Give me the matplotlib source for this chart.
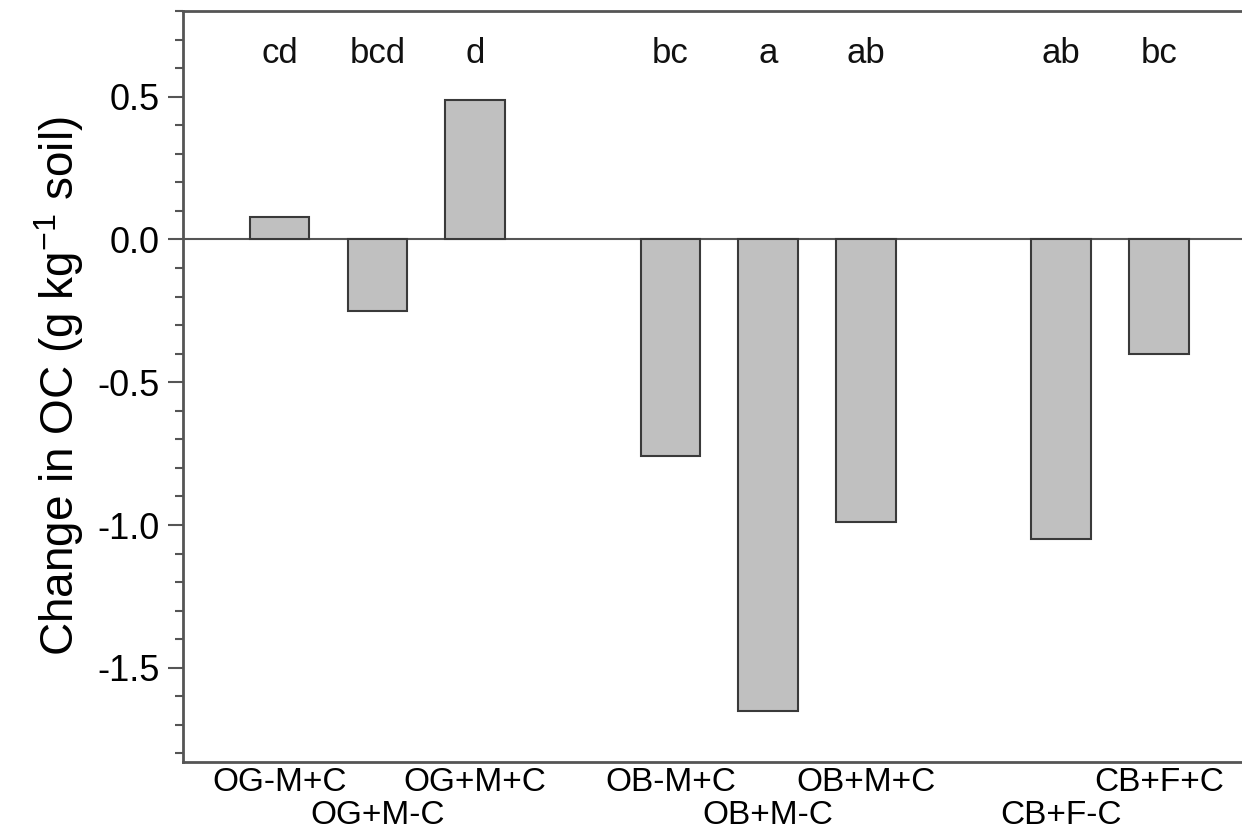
import numpy as np
import matplotlib.pyplot as plt
import matplotlib
from matplotlib.ticker import MultipleLocator

matplotlib.rcParams["font.family"] = ["Liberation Sans", "DejaVu Sans"]
matplotlib.rcParams["mathtext.fontset"] = "custom"
matplotlib.rcParams["mathtext.rm"] = "Liberation Sans"

# data
treatments = ["OG-M+C", "OG+M-C", "OG+M+C",
              "OB-M+C", "OB+M-C", "OB+M+C",
              "CB+F-C", "CB+F+C"]
positions = [1, 2, 3, 5, 6, 7, 9, 10]
change_oc = [0.08, -0.25, 0.49, -0.757, -1.65, -0.99, -1.05, -0.40]
letters = ["cd", "bcd", "d", "bc", "a", "ab", "ab", "bc"]
label_row = [0, 1, 0, 0, 1, 0, 1, 0]

fig = plt.figure(figsize=(12.42, 8.35), dpi=100)
ax = fig.add_axes([0.1473, 0.0874, 0.8527, 0.8994])

ax.bar(positions, change_oc, width=0.61, color="#c0c0c0",
       edgecolor="#3a3a3a", linewidth=1.5, zorder=3)
ax.axhline(0, color="#555555", linewidth=1.5, zorder=2)

for x, t in zip(positions, letters):
    ax.text(x, 0.65, t, ha="center", va="center", fontsize=25, color="#111111")

ax.set_xlim(0.01, 10.85)
ax.set_ylim(-1.83, 0.80)
ax.yaxis.set_major_locator(MultipleLocator(0.5))
ax.yaxis.set_minor_locator(MultipleLocator(0.1))
ax.set_yticks([-1.5, -1.0, -0.5, 0.0, 0.5])
ax.set_yticklabels(["-1.5", "-1.0", "-0.5", "0.0", "0.5"])
ax.tick_params(axis="y", which="major", length=11, width=1.5, color="#555555",
               labelsize=26, pad=6)
ax.tick_params(axis="y", which="minor", length=6, width=1.5, color="#555555")

# staggered category labels
ax.set_xticks([])
for x, name, row in zip(positions, treatments, label_row):
    ax.text(x, -0.006 - 0.044 * row, name, transform=ax.get_xaxis_transform(),
            ha="center", va="top", fontsize=24)

ax.set_ylabel("Change in OC (g kg$^{\\mathrm{-1}}$ soil)", fontsize=33, labelpad=8)

for side in ["left", "bottom", "top"]:
    ax.spines[side].set_color("#555555")
    ax.spines[side].set_linewidth(2)
ax.spines["right"].set_visible(False)

plt.savefig("out.png", dpi=100)
plt.close()
